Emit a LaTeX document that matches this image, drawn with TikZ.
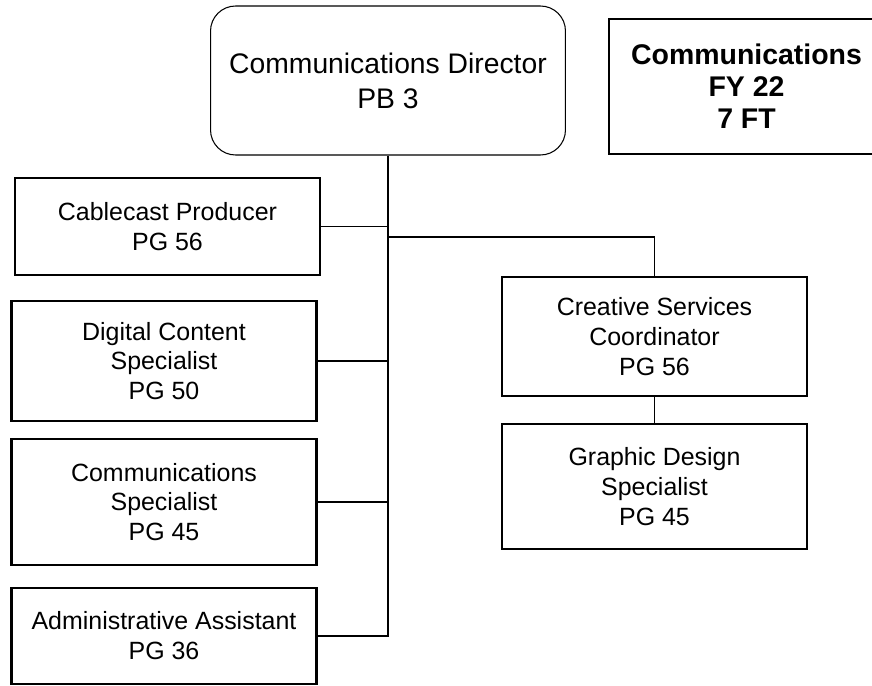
\documentclass[tikz,border=0pt]{standalone}
\usepackage{fontspec}
\setmainfont{Liberation Sans}
\usepackage{tikz}

\begin{document}
\begin{tikzpicture}[x=0.02cm, y=-0.02cm,
                    post/.style={draw, line width=1.6pt, align=center, inner sep=0pt,
                                 minimum width=6.1cm,
                                 font=\fontsize{14.2}{17}\selectfont},
                    chief/.style={draw, line width=0.6pt, rounded corners=0.5cm, align=center,
                                  minimum width=7.1cm, minimum height=2.98cm,
                                  font=\fontsize{16.1}{19.9}\selectfont},
                    note/.style={draw, line width=1.6pt, align=center,
                                 minimum width=5.5cm, minimum height=2.7cm,
                                 font=\fontsize{16.2}{18.2}\selectfont\bfseries},
                    link/.style={draw, line width=0.6pt}]
                    \useasboundingbox (0,0) rectangle (872,686);
                    \node[chief] (dir) at (388,80.5) {Communications Director\\PB 3};
                    \node[note] (info) at (746.5,86.5) {Communications\\FY 22\\7 FT};
                    \node[post, minimum height=1.94cm] (cable) at (167.5,226.5)
                        {Cablecast Producer\\PG 56};
                    \node[post, minimum height=2.4cm] (digital) at (164,361)
                        {Digital Content\\Specialist\\PG 50};
                    \node[post, minimum height=2.52cm] (commspec) at (164,502)
                        {Communications\\Specialist\\PG 45};
                    \node[post, minimum height=1.92cm] (admin) at (164,636)
                        {Administrative Assistant\\PG 36};
                    \node[post, minimum height=2.38cm] (creative) at (654.5,336.5)
                        {Creative Services\\Coordinator\\PG 56};
                    \node[post, minimum height=2.5cm] (graphic) at (654.5,486.5)
                        {Graphic Design\\Specialist\\PG 45};
                    % trunk and branches
                    \draw[link] (dir.south) |- (admin.east);
                    \foreach \n in {cable,digital,commspec}
                        \draw[link] (\n.east) -- (\n.east -| dir.south);
                    \coordinate (tap) at (388,237);
                    \draw[link] (tap) -| (creative.north);
                    \draw[link] (creative.south) -- (graphic.north);
                \end{tikzpicture}
\end{document}
